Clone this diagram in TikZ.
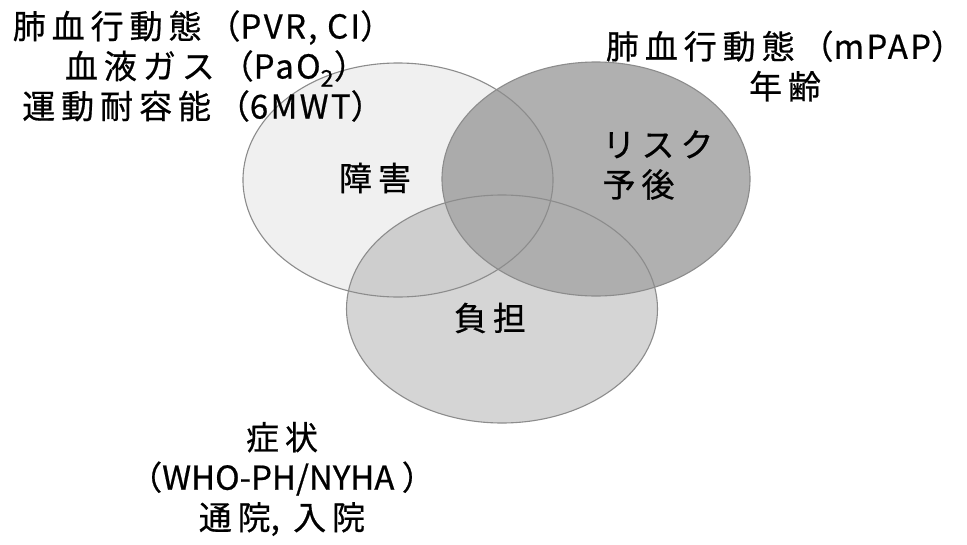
\documentclass[tikz,border=0pt]{standalone}
\usepackage{fontspec}
\setmainfont[LetterSpace=18,FakeBold=0.6]{Noto Sans CJK JP}
\newfontfamily\la[LetterSpace=7,FakeBold=0.6]{Noto Sans CJK JP}
\newfontfamily\lb[FakeBold=0.6]{Noto Sans CJK JP}
\usetikzlibrary{shapes.geometric}
\definecolor{cA}{HTML}{F0F0F0}
\definecolor{cB}{HTML}{8A8A8A}
\definecolor{cC}{HTML}{ADADAD}
\definecolor{edge}{HTML}{8C8C8C}
\tikzset{
  venn/.style={ellipse, inner sep=0pt},
  rim/.style={ellipse, draw=edge, line width=1.1pt, inner sep=0pt},
  lbl/.style={align=center, inner sep=0pt, font=\fontsize{33}{40}\selectfont, text=black},
}
\begin{document}
\begin{tikzpicture}[x=1pt,y=-1pt]
\useasboundingbox (0,0) rectangle (967,544);
\fill[white] (0,0) rectangle (967,544);
\node[venn, fill=cA, minimum width=310, minimum height=234] (imp) at (398,180) {};
\node[venn, fill=cB, fill opacity=0.67, minimum width=308, minimum height=234] (risk) at (596,179) {};
\node[venn, fill=cC, fill opacity=0.5, minimum width=311, minimum height=228] (burd) at (502,309) {};
\node[rim, minimum width=310, minimum height=234] (impr) at (imp) {};
\node[rim, minimum width=308, minimum height=234] (riskr) at (risk) {};
\node[rim, minimum width=311, minimum height=228] (burdr) at (burd) {};
\node[lbl] (impl) at (375,178) {障害};
\node[lbl, align=left] (riskl) at (658,165) {リスク\\予後};
\node[lbl] (burdl) at (490,318) {負担};
\node[lbl] (tl) at (203,66) {肺血行動態（{\la PVR, CI}）\\\hspace{26pt}血液ガス（{\la PaO\textsubscript{2}}）\\運動耐容能（{\la 6MWT}）};
\node[lbl] (tr) at (785,66) {肺血行動態（{\la mPAP}）\\年齢};
\node[lbl] (bl) at (282,479) {症状\\{\lb（WHO-PH/NYHA\ ）}\\通院{\la ,} 入院};
\end{tikzpicture}
\end{document}
